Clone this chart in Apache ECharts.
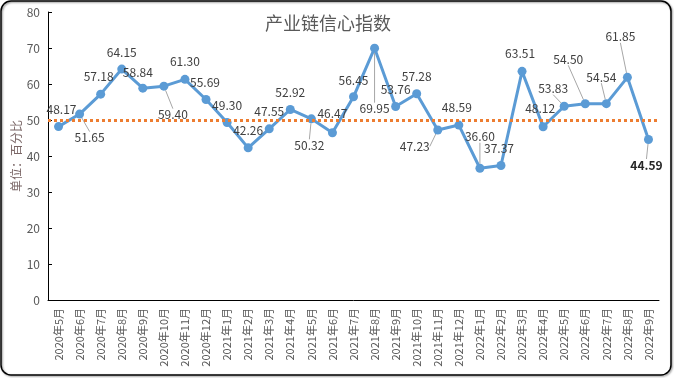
<!DOCTYPE html>
<html>
<head>
<meta charset="utf-8">
<style>
  html, body { margin: 0; padding: 0; background: #fff; }
  #main { width: 674px; height: 378px; }
</style>
<script src="https://cdn.jsdelivr.net/npm/echarts@6/dist/echarts.min.js"></script>
</head>
<body>
<div id="main"></div>
<script>
// 月份
var months = ['2020年5月', '2020年6月', '2020年7月', '2020年8月', '2020年9月', '2020年10月', '2020年11月', '2020年12月',
    '2021年1月', '2021年2月', '2021年3月', '2021年4月', '2021年5月', '2021年6月', '2021年7月', '2021年8月',
    '2021年9月', '2021年10月', '2021年11月', '2021年12月', '2022年1月', '2022年2月', '2022年3月', '2022年4月',
    '2022年5月', '2022年6月', '2022年7月', '2022年8月', '2022年9月'];
// 产业链信心指数
var indexValues = [48.17, 51.65, 57.18, 64.15, 58.84, 59.40, 61.30, 55.69,
    49.30, 42.26, 47.55, 52.92, 50.32, 46.47, 56.45, 69.95,
    53.76, 57.28, 47.23, 48.59, 36.60, 37.37, 63.51, 48.12,
    53.83, 54.50, 54.54, 61.85, 44.59];
var baseLine = 50;
var yTicks = [0, 10, 20, 30, 40, 50, 60, 70, 80];

// 标签偏移 (相对默认 top 位置) 和是否画引导线
var labelShift = [[3, -2], [10, 39], [-2, -2], [0, -1], [-5, 0], [9, 44], [0, -2], [-1, -2],
    [0, -2], [0, -2], [0, -2], [0, -2], [-2, 42], [0, -4], [0, -1], [0, 76],
    [0, -2], [0, -2], [-23, 32], [-2, -2], [0, -16], [-2, -2], [-2, -2], [-3, -3],
    [-11, -2], [-17, -29], [-5, -11], [-7, -25], [-2, 41]];
var withLine = [1, 5, 12, 15, 18, 20, 24, 25, 26, 27, 28];

var chart = echarts.init(document.getElementById('main'));

var seriesData = indexValues.map(function (v, i) {
    var item = {
        value: v,
        labelLine: { show: withLine.indexOf(i) >= 0 }
    };
    if (i == indexValues.length - 1) {
        item.label = { fontWeight: 'bold', color: '#262626' };
    }
    return item;
});

var option = {
    animation: false,
    textStyle: { fontFamily: '"Noto Sans CJK SC", sans-serif' },
    title: {
        text: '产业链信心指数',
        left: 323,
        textAlign: 'center',
        top: 9,
        textStyle: { fontSize: 18, fontWeight: 'normal', color: '#595959' }
    },
    graphic: [{
        type: 'rect',
        shape: { x: 1, y: 1, width: 670, height: 374, r: 10 },
        style: {
            fill: 'none', stroke: '#000', lineWidth: 1.5,
            shadowColor: 'rgba(0,0,0,0.45)', shadowBlur: 2, shadowOffsetX: 1, shadowOffsetY: 1
        },
        silent: true
    }],
    grid: {
        left: 48,
        right: 15,
        top: 12,
        bottom: 78,
        outerBoundsMode: 'none'
    },
    xAxis: {
        type: 'category',
        data: months,
        boundaryGap: true,
        axisLine: { lineStyle: { color: '#000', width: 1 } },
        axisTick: { inside: true, length: 4, lineStyle: { color: '#000' } },
        axisLabel: { rotate: 90, interval: 0, fontSize: 11, color: '#595959', margin: 8 }
    },
    yAxis: {
        type: 'value',
        min: yTicks[0],
        max: yTicks[yTicks.length - 1],
        interval: 10,
        name: '单位：百分比',
        nameLocation: 'middle',
        nameGap: 26,
        nameMoveOverlap: false,
        nameTextStyle: { fontSize: 12, color: '#7a6666' },
        axisLine: { show: true, lineStyle: { color: '#000', width: 1 } },
        axisTick: { show: true, inside: true, length: 4, lineStyle: { color: '#000' } },
        axisLabel: { fontSize: 12, color: '#595959', margin: 8 },
        splitLine: { show: false }
    },
    series: [{
        name: '产业链信心指数',
        type: 'line',
        data: seriesData,
        symbol: 'circle',
        symbolSize: 9,
        itemStyle: { color: '#5B9BD5' },
        lineStyle: { color: '#5B9BD5', width: 3 },
        label: {
            show: true,
            position: 'top',
            fontSize: 12,
            color: '#404040',
            formatter: function (p) {
                return p.value.toFixed(2);
            }
        },
        labelLine: {
            lineStyle: { color: '#a6a6a6', width: 1 }
        },
        labelLayout: function (params) {
            var s = labelShift[params.dataIndex];
            return { dx: s[0], dy: s[1] };
        },
        markLine: {
            silent: true,
            symbol: 'none',
            label: { show: false },
            lineStyle: { color: '#ED7D31', type: [3, 3], width: 3 },
            data: [{ yAxis: baseLine }]
        }
    }]
};
chart.setOption(option);
</script>
</body>
</html>
